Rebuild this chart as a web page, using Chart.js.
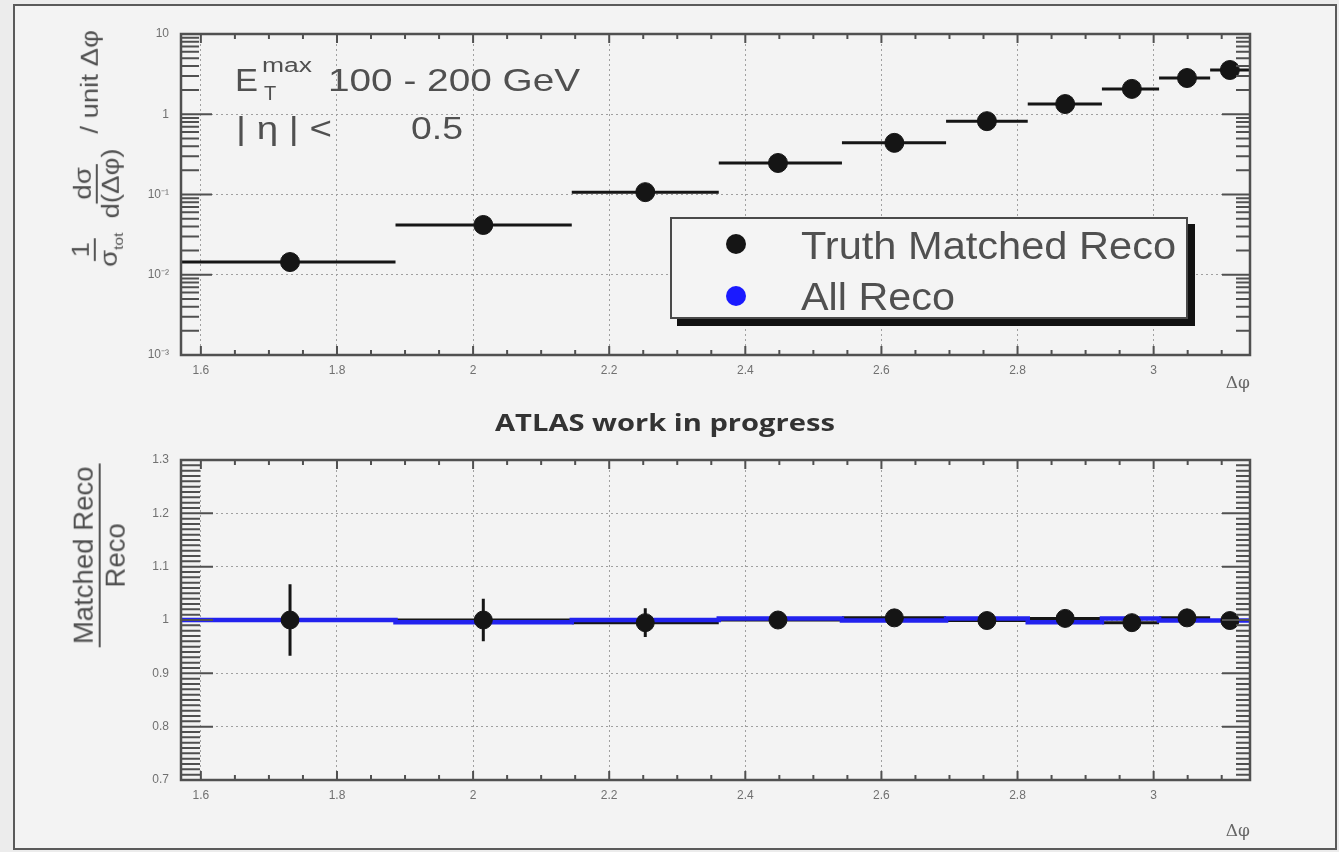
<!DOCTYPE html>
<html>
<head>
<meta charset="utf-8">
<script src="https://cdn.jsdelivr.net/npm/chart.js@4/dist/chart.umd.min.js"></script>
<style>
html,body{margin:0;padding:0;}
body{width:1339px;height:852px;background:#ececec;position:relative;overflow:hidden;font-family:"Liberation Sans",Arial,sans-serif;}
#frame{position:absolute;left:13px;top:4px;width:1324px;height:846px;border:2px solid #5a5a5a;box-sizing:border-box;background:#f3f3f3;z-index:0;}
canvas{position:absolute;left:0;z-index:1;}
#c1{top:0;}
#c2{top:420px;}
.txt{position:absolute;line-height:1;white-space:nowrap;transform-origin:0 0;color:#505050;z-index:3;}
#legend{position:absolute;left:670px;top:217px;width:518px;height:102px;box-sizing:border-box;border:2px solid #4a4a4a;background:#f4f4f4;box-shadow:7px 7px 0 #111;z-index:2;}
.dot{position:absolute;width:20px;height:20px;border-radius:50%;z-index:3;}
.ytitle{position:absolute;display:flex;align-items:center;white-space:nowrap;color:#505050;z-index:3;line-height:1.05;}
.frac{display:inline-flex;flex-direction:column;align-items:center;margin:0 3px;}
.frac .num{border-bottom:2.5px solid #555;padding:0 3px 1px 3px;}
.frac .den{padding:1px 3px 0 3px;}
</style>
</head>
<body>
<div id="frame"></div>
<canvas id="c1" width="1339" height="400"></canvas>
<canvas id="c2" width="1339" height="432"></canvas>
<div id="legend"></div>
<div class="dot" style="left:726px;top:234px;background:#151515;"></div>
<div class="dot" style="left:726px;top:286px;background:#1a1aff;"></div>

<div class="ytitle" id="ytop" style="font-size:23px;">
  <span class="frac"><span class="num">1</span><span class="den">σ<sub style="font-size:13px">tot</sub></span></span>
  <span class="frac"><span class="num">dσ</span><span class="den">d(Δφ)</span></span>
  <span id="unitpart" style="position:relative;top:-7px;">&nbsp;/ unit Δφ</span>
</div>
<div class="ytitle" id="ybot" style="font-size:27px;">
  <span class="frac"><span class="num">Matched Reco</span><span class="den">Reco</span></span>
</div>

<script>
// ---------------- data ----------------
const binLow    = [1.5708, 1.886, 2.145, 2.361, 2.542, 2.695, 2.815, 2.924, 3.008, 3.083];
const binHigh   = [1.886, 2.145, 2.361, 2.542, 2.695, 2.815, 2.924, 3.008, 3.083, 3.1416];
const binCenter = [1.731, 2.015, 2.253, 2.448, 2.619, 2.755, 2.870, 2.968, 3.049, 3.112];
const truthMatchedReco = [0.0144, 0.0417, 0.107, 0.247, 0.44, 0.82, 1.34, 2.07, 2.83, 3.56];
const allReco          = [0.0144, 0.0417, 0.107, 0.247, 0.44, 0.82, 1.34, 2.07, 2.83, 3.56];
const ratio    = [1.000, 1.000, 0.995, 1.000, 1.004, 0.999, 1.003, 0.995, 1.004, 0.999];
const ratioErr = [0.067, 0.040, 0.027, 0.008, 0.007, 0.006, 0.006, 0.006, 0.006, 0.006];
const allRecoRatio = [1.000, 1.000, 0.996, 1.000, 1.003, 0.999, 1.003, 0.996, 1.003, 0.999];

const xTicks      = [1.6, 1.8, 2.0, 2.2, 2.4, 2.6, 2.8, 3.0];
const xTickLabels = ['1.6', '1.8', '2', '2.2', '2.4', '2.6', '2.8', '3'];
const yTopTicks      = [0.001, 0.01, 0.1, 1, 10];
const yTopTickLabels = ['10⁻³', '10⁻²', '10⁻¹', '1', '10'];
const yBotTicks      = [0.7, 0.8, 0.9, 1.0, 1.1, 1.2, 1.3];
const yBotTickLabels = ['0.7', '0.8', '0.9', '1', '1.1', '1.2', '1.3'];

const legendLabels = ['Truth Matched Reco', 'All Reco'];

// ---------------- helpers ----------------
const TICK_FONT = {family: '"Liberation Sans", Arial, sans-serif', size: 12};
const TICK_COLOR = '#707070';
const AXIS_COLOR = '#505050';

function drawRootFrame(chart, yMajor, yMinor, lens) {
  const {ctx, chartArea: a, scales: {x, y}} = chart;
  ctx.save();
  ctx.strokeStyle = AXIS_COLOR;
  ctx.lineWidth = 2;
  ctx.beginPath();
  yMajor.forEach(v => {
    const py = y.getPixelForValue(v);
    ctx.moveTo(a.left, py); ctx.lineTo(a.left + lens.lMaj, py);
    ctx.moveTo(a.right, py); ctx.lineTo(a.right - lens.rMaj, py);
  });
  yMinor.forEach(v => {
    const py = y.getPixelForValue(v);
    ctx.moveTo(a.left, py); ctx.lineTo(a.left + lens.lMin, py);
    ctx.moveTo(a.right, py); ctx.lineTo(a.right - lens.rMin, py);
  });
  const step = xTicks[1] - xTicks[0];
  const xs = [];
  for (let v = xTicks[0] - step; v <= Math.PI + 1e-9; v += step / 4) xs.push(v);
  xs.forEach(v => {
    if (v < Math.PI / 2 - 1e-9 || v > Math.PI) return;
    const isMaj = xTicks.some(t => Math.abs(t - v) < 1e-6);
    const len = isMaj ? 9 : 5;
    const px = x.getPixelForValue(v);
    ctx.moveTo(px, a.bottom); ctx.lineTo(px, a.bottom - len);
    ctx.moveTo(px, a.top); ctx.lineTo(px, a.top + len);
  });
  ctx.stroke();
  ctx.lineWidth = 2.5;
  ctx.strokeRect(a.left, a.top, a.right - a.left, a.bottom - a.top);
  ctx.restore();
}

function logMinors() {
  const out = [];
  for (let d = -3; d < 1; d++) for (let k = 2; k <= 9; k++) out.push(k * Math.pow(10, d));
  return out;
}
function linMinors() {
  const out = [];
  for (let v = 0.7; v <= 1.3 + 1e-9; v += 0.01) out.push(v);
  return out;
}

function xScale(height, titlePadBottom) {
  return {
    type: 'linear',
    min: Math.PI / 2,
    max: Math.PI,
    afterBuildTicks: s => { s.ticks = xTicks.map(v => ({value: v})); },
    afterFit: s => { s.height = height; },
    ticks: {
      callback: (v, i) => xTickLabels[i],
      font: TICK_FONT, color: TICK_COLOR, padding: 8,
      maxRotation: 0, autoSkip: false
    },
    grid: {color: '#a0a0a0', lineWidth: 1, drawTicks: false, tickLength: 0},
    border: {display: false, dash: [2, 3]},
    title: {
      display: true, text: 'Δφ', align: 'end',
      font: {family: '"DejaVu Serif", serif', size: 17},
      color: '#666',
      padding: {top: 0, bottom: titlePadBottom}
    }
  };
}

// ---------------- top chart ----------------
const topPlugin = {
  id: 'topPlugin',
  beforeDatasetsDraw(chart) {
    const {ctx, scales: {x, y}} = chart;
    ctx.save();
    ctx.strokeStyle = '#151515';
    ctx.lineWidth = 3;
    ctx.beginPath();
    truthMatchedReco.forEach((v, i) => {
      const py = y.getPixelForValue(v);
      ctx.moveTo(x.getPixelForValue(binLow[i]), py);
      ctx.lineTo(x.getPixelForValue(binHigh[i]), py);
    });
    ctx.stroke();
    ctx.restore();
  },
  afterDatasetsDraw(chart) {
    drawRootFrame(chart, yTopTicks, logMinors(), {lMaj: 31, lMin: 18, rMaj: 28, rMin: 14});
  }
};

new Chart(document.getElementById('c1'), {
  type: 'scatter',
  data: {
    datasets: [
      {
        label: legendLabels[0],
        data: binCenter.map((x, i) => ({x, y: truthMatchedReco[i]})),
        backgroundColor: '#151515', borderColor: '#151515',
        pointRadius: 9.5, pointHoverRadius: 9.5, order: 0
      },
      {
        label: legendLabels[1],
        data: binCenter.map((x, i) => ({x, y: allReco[i]})),
        backgroundColor: '#1a1aff', borderColor: '#1a1aff',
        pointRadius: 8, pointHoverRadius: 8, order: 1
      }
    ]
  },
  options: {
    responsive: false, animation: false, events: [],
    layout: {padding: {left: 0, top: 34, right: 89, bottom: 0}},
    plugins: {legend: {display: false}, tooltip: {enabled: false}},
    scales: {
      x: xScale(45, 6),
      y: {
        type: 'logarithmic',
        min: 0.001, max: 10,
        afterBuildTicks: s => { s.ticks = yTopTicks.map(v => ({value: v})); },
        afterFit: s => { s.width = 181; },
        ticks: {
          callback: (v, i) => yTopTickLabels[i],
          font: TICK_FONT, color: TICK_COLOR, padding: 12, autoSkip: false
        },
        grid: {color: '#a0a0a0', lineWidth: 1, drawTicks: false, tickLength: 0},
        border: {display: false, dash: [2, 3]}
      }
    }
  },
  plugins: [topPlugin]
});

// ---------------- bottom chart ----------------
const botPlugin = {
  id: 'botPlugin',
  beforeDatasetsDraw(chart) {
    const {ctx, scales: {x, y}} = chart;
    ctx.save();
    ctx.strokeStyle = '#151515';
    ctx.lineWidth = 3;
    ctx.beginPath();
    ratio.forEach((v, i) => {
      const py = y.getPixelForValue(v);
      const px = x.getPixelForValue(binCenter[i]);
      ctx.moveTo(x.getPixelForValue(binLow[i]), py);
      ctx.lineTo(x.getPixelForValue(binHigh[i]), py);
      ctx.moveTo(px, y.getPixelForValue(v + ratioErr[i]));
      ctx.lineTo(px, y.getPixelForValue(v - ratioErr[i]));
    });
    ctx.stroke();
    ctx.restore();
  },
  afterDatasetsDraw(chart) {
    drawRootFrame(chart, yBotTicks, linMinors(), {lMaj: 32, lMin: 19, rMaj: 28, rMin: 14});
  }
};

const stepData = binLow.map((x, i) => ({x, y: allRecoRatio[i]}));
stepData.push({x: binHigh[binHigh.length - 1], y: allRecoRatio[allRecoRatio.length - 1]});

new Chart(document.getElementById('c2'), {
  type: 'scatter',
  data: {
    datasets: [
      {
        label: legendLabels[0],
        data: binCenter.map((x, i) => ({x, y: ratio[i]})),
        backgroundColor: '#151515', borderColor: '#151515',
        pointRadius: 9, pointHoverRadius: 9, order: 0
      },
      {
        label: legendLabels[1],
        type: 'line',
        data: stepData,
        showLine: true, stepped: 'after',
        borderColor: '#2222ee', borderWidth: 4.5,
        pointRadius: 0, fill: false, order: 1
      }
    ]
  },
  options: {
    responsive: false, animation: false, events: [],
    layout: {padding: {left: 0, top: 40, right: 89, bottom: 10}},
    plugins: {legend: {display: false}, tooltip: {enabled: false}},
    scales: {
      x: xScale(62, 0),
      y: {
        type: 'linear',
        min: 0.7, max: 1.3,
        afterBuildTicks: s => { s.ticks = yBotTicks.map(v => ({value: v})); },
        afterFit: s => { s.width = 181; },
        ticks: {
          callback: (v, i) => yBotTickLabels[i],
          font: TICK_FONT, color: TICK_COLOR, padding: 12, autoSkip: false
        },
        grid: {color: '#a0a0a0', lineWidth: 1, drawTicks: false, tickLength: 0},
        border: {display: false, dash: [2, 3]}
      }
    }
  },
  plugins: [botPlugin]
});

// ---------------- text annotations ----------------
function placeText(html, x, baseline, size, opts = {}) {
  const el = document.createElement('div');
  el.className = 'txt';
  el.innerHTML = html;
  el.style.fontSize = size + 'px';
  if (opts.family) el.style.fontFamily = opts.family;
  if (opts.weight) el.style.fontWeight = opts.weight;
  if (opts.color) el.style.color = opts.color;
  const asc = opts.asc || 0.8465;
  el.style.top = (baseline - asc * size) + 'px';
  document.body.appendChild(el);
  const w = el.getBoundingClientRect().width;
  let sx = 1;
  if (opts.width) sx = opts.width / w;
  let left = x;
  if (opts.center) left = x - (opts.width || w) / 2;
  el.style.left = left + 'px';
  if (sx !== 1) el.style.transform = 'scaleX(' + sx.toFixed(3) + ')';
  return el;
}

placeText('E', 235, 91, 32, {width: 23});
placeText('max', 262, 72, 20, {width: 50});
placeText('T', 264, 100, 20);
placeText('100 - 200 GeV', 328, 91, 32, {width: 252});
placeText('| η | &lt;', 236, 139, 32, {width: 96});
placeText('0.5', 411, 139, 32, {width: 52});

placeText(legendLabels[0], 801, 259, 38, {width: 375});
placeText(legendLabels[1], 801, 310, 38, {width: 154});

placeText('ATLAS work in progress', 665, 431, 24,
  {family: '"Open Sans", sans-serif', weight: 700, width: 340, center: true, asc: 0.888, color: '#333'});

function placeYTitle(id, cx, cy, len) {
  const el = document.getElementById(id);
  const r = el.getBoundingClientRect();
  const sx = len / r.width;
  el.style.left = (cx - r.width / 2) + 'px';
  el.style.top = (cy - r.height / 2) + 'px';
  el.style.transform = 'rotate(-90deg) scale(' + sx.toFixed(3) + ',1)';
}
placeYTitle('ytop', 97, 152, 244);
placeYTitle('ybot', 100, 555, 190);
</script>
</body>
</html>
